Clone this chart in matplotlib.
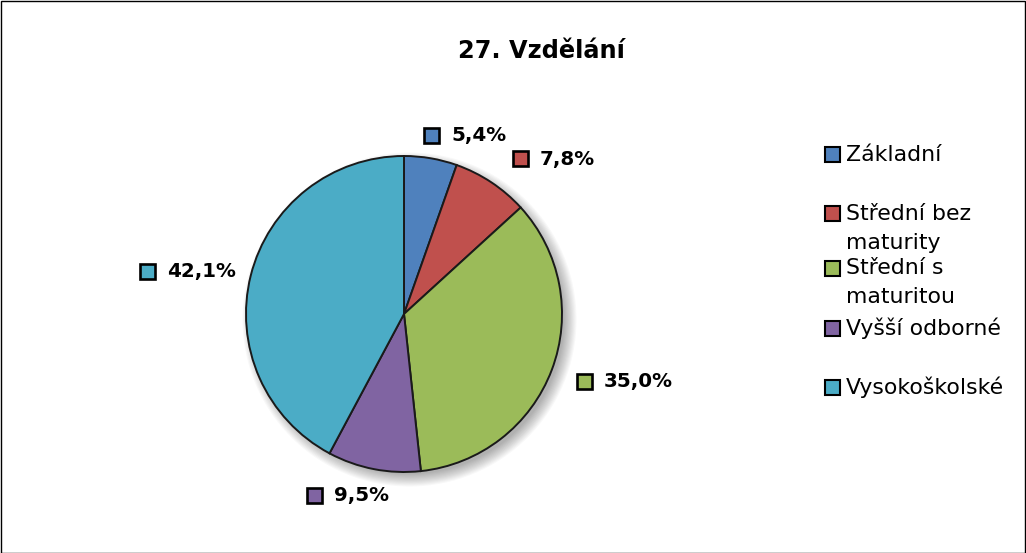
import matplotlib
matplotlib.use("Agg")
import matplotlib.pyplot as plt
from matplotlib.patches import Rectangle, Circle
import numpy as np

plt.rcParams['font.family'] = ['DejaVu Sans']

categories = ["Základní", "Střední bez\nmaturity", "Střední s\nmaturitou", "Vyšší odborné", "Vysokoškolské"]
values = [5.4, 7.8, 35.0, 9.5, 42.1]
colors = ["#4F81BD", "#C0504D", "#9BBB59", "#8064A2", "#4BACC6"]
title = "27. Vzdělání"

W, H = 1026, 553
fig = plt.figure(figsize=(W / 100, H / 100), dpi=100)

def fx(x):
    return x / W

def fy(y):
    return 1 - y / H

# outer frame
fig.patches.append(Rectangle((0.5 / W, 0.5 / H), 1 - 1.5 / W, 1 - 1.5 / H, transform=fig.transFigure,
                             fill=False, edgecolor="black", linewidth=1.0))

cx, cy, r = 404, 314, 158
ax = fig.add_axes([fx(cx - r), fy(cy + r), 2 * r / W, 2 * r / H])

# soft shadow
for i in range(12):
    c = Circle((0.035, -0.035), 0.98 + 0.007 * i, facecolor="black", alpha=0.028,
               edgecolor="none", zorder=0)
    c.set_clip_on(False)
    ax.add_patch(c)

wedges, _ = ax.pie(values, colors=colors, startangle=90, counterclock=False, radius=1,
                   wedgeprops=dict(edgecolor="#1a1a1a", linewidth=1.4))
for w in wedges:
    w.set_zorder(2)
    w.set_clip_on(False)
ax.set_xlim(-1, 1)
ax.set_ylim(-1, 1)
ax.set_aspect("equal")
ax.axis("off")

fig.text(fx(541), fy(51), title, ha="center", va="center", fontsize=17.3, fontweight="bold")

# data labels: (marker centre x, y) in pixels
label_pos = [(431, 135), (520, 158), (584, 381), (314, 495), (147, 271)]
for (mx, my), v, c in zip(label_pos, values, colors):
    fig.patches.append(Rectangle((fx(mx - 7.5), fy(my + 7.5)), 15 / W, 15 / H, transform=fig.transFigure,
                                 facecolor=c, edgecolor="black", linewidth=1.9))
    fig.text(fx(mx + 20), fy(my + 1), f"{v:.1f}%".replace(".", ","), ha="left", va="center",
             fontsize=14.3, fontweight="bold")

# legend
legend_y = [155, 214, 268, 328, 387]
for ly, cat, c in zip(legend_y, categories, colors):
    fig.patches.append(Rectangle((fx(825), fy(ly + 7.5)), 15 / W, 15 / H, transform=fig.transFigure,
                                 facecolor=c, edgecolor="black", linewidth=1.5))
    lines = cat.split("\n")
    for k, line in enumerate(lines):
        fig.text(fx(846), fy(ly + 29 * k), line, ha="left", va="center", fontsize=15.8)

fig.savefig("out.png", dpi=100)
